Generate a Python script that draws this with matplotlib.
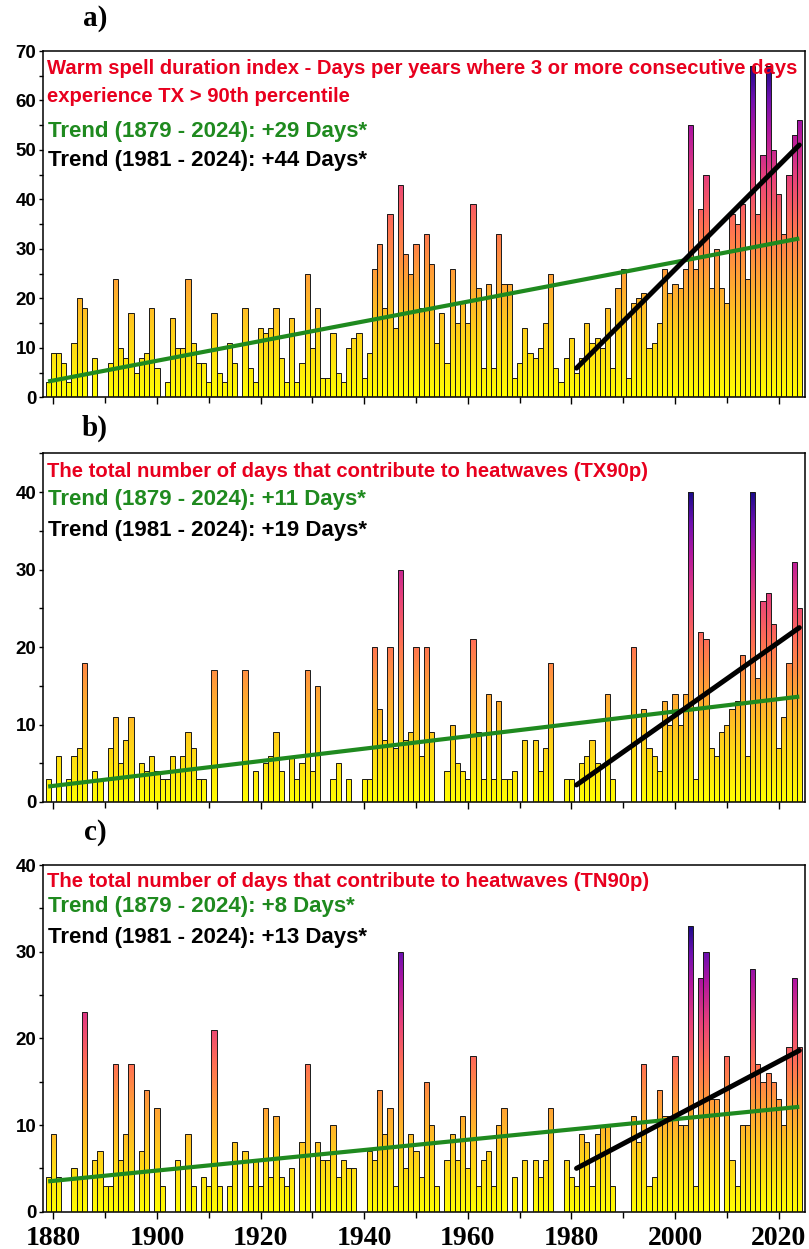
import numpy as np
import matplotlib
matplotlib.use("Agg")
import matplotlib.pyplot as plt
from matplotlib.colors import LinearSegmentedColormap
from matplotlib.path import Path
from matplotlib.ticker import MultipleLocator

# ---------------- data ----------------
years = list(range(1879, 2025))

wsdi = [3, 9, 9, 7, 3, 11, 20, 18, 0, 8,          # 1879-1888
        0, 0, 7, 24, 10, 8, 17, 5, 8, 9,           # 1889-1898
        18, 6, 0, 3, 16, 10, 10, 24, 11, 7,        # 1899-1908
        7, 3, 17, 5, 3, 11, 7, 0, 18, 6,           # 1909-1918
        3, 14, 13, 14, 18, 8, 3, 16, 3, 7,         # 1919-1928
        25, 10, 18, 4, 4, 13, 5, 3, 10, 12,        # 1929-1938
        13, 4, 9, 26, 31, 18, 37, 14, 43, 29,      # 1939-1948
        25, 31, 18, 33, 27, 11, 17, 7, 26, 15,     # 1949-1958
        19, 15, 39, 22, 6, 23, 6, 33, 23, 23,      # 1959-1968
        4, 7, 14, 9, 8, 10, 15, 25, 6, 3,          # 1969-1978
        8, 12, 5, 8, 15, 11, 12, 10, 18, 6,        # 1979-1988
        22, 26, 4, 19, 20, 21, 10, 11, 15, 26,     # 1989-1998
        21, 23, 22, 26, 55, 26, 38, 45, 22, 30,    # 1999-2008
        22, 19, 37, 35, 39, 24, 67, 37, 49, 67,    # 2009-2018
        50, 41, 33, 45, 53, 56]                    # 2019-2024

tx90p = [3, 0, 6, 0, 3, 6, 7, 18, 0, 4,           # 1879-1888
         3, 0, 7, 11, 5, 8, 11, 0, 5, 4,           # 1889-1898
         6, 4, 3, 3, 6, 4, 6, 9, 7, 3,             # 1899-1908
         3, 0, 17, 0, 0, 0, 0, 0, 17, 0,           # 1909-1918
         4, 0, 5, 6, 9, 4, 0, 6, 3, 5,             # 1919-1928
         17, 4, 15, 0, 0, 3, 5, 0, 3, 0,           # 1929-1938
         0, 3, 3, 20, 12, 8, 20, 7, 30, 8,         # 1939-1948
         9, 20, 6, 20, 9, 0, 0, 4, 10, 5,          # 1949-1958
         4, 3, 21, 9, 3, 14, 3, 13, 3, 3,          # 1959-1968
         4, 0, 8, 0, 8, 4, 7, 18, 0, 0,            # 1969-1978
         3, 3, 0, 5, 6, 8, 5, 0, 14, 3,            # 1979-1988
         0, 0, 0, 20, 0, 12, 7, 6, 4, 13,          # 1989-1998
         10, 14, 10, 14, 40, 3, 22, 21, 7, 6,      # 1999-2008
         9, 10, 12, 13, 19, 6, 40, 16, 26, 27,     # 2009-2018
         23, 7, 11, 18, 31, 25]                    # 2019-2024

tn90p = [4, 9, 4, 0, 0, 5, 4, 23, 0, 6,           # 1879-1888
         7, 3, 3, 17, 6, 9, 17, 0, 7, 14,          # 1889-1898
         0, 12, 3, 0, 0, 6, 0, 9, 3, 0,            # 1899-1908
         4, 3, 21, 3, 0, 3, 8, 0, 7, 3,            # 1909-1918
         6, 3, 12, 4, 11, 4, 3, 5, 0, 8,           # 1919-1928
         17, 0, 8, 6, 6, 10, 4, 6, 5, 5,           # 1929-1938
         0, 0, 7, 6, 14, 9, 12, 3, 30, 5,          # 1939-1948
         9, 7, 4, 15, 10, 3, 0, 6, 9, 6,           # 1949-1958
         11, 5, 18, 3, 6, 7, 3, 10, 12, 0,         # 1959-1968
         4, 0, 6, 0, 6, 4, 6, 12, 0, 0,            # 1969-1978
         6, 4, 3, 9, 8, 3, 9, 10, 10, 3,           # 1979-1988
         0, 0, 0, 11, 8, 17, 3, 4, 14, 11,         # 1989-1998
         11, 18, 10, 10, 33, 3, 27, 30, 13, 13,    # 1999-2008
         0, 18, 6, 3, 10, 10, 28, 17, 15, 16,      # 2009-2018
         15, 13, 10, 19, 27, 19]                   # 2019-2024

trend_full_years = [1879, 2024]
trend_recent_years = [1981, 2024]
wsdi_trend_full = [3.2, 32.1]
wsdi_trend_recent = [5.9, 51.0]
tx90p_trend_full = [2.0, 13.6]
tx90p_trend_recent = [2.2, 22.5]
tn90p_trend_full = [3.5, 12.1]
tn90p_trend_recent = [5.0, 18.6]

panel_letters = ["a)", "b)", "c)"]
titles = [["Warm spell duration index - Days per years where 3 or more consecutive days",
           "experience TX > 90th percentile"],
          ["The total number of days that contribute to heatwaves (TX90p)"],
          ["The total number of days that contribute to heatwaves (TN90p)"]]
full_labels = ["Trend (1879 - 2024): +29 Days*",
               "Trend (1879 - 2024): +11 Days*",
               "Trend (1879 - 2024): +8 Days*"]
recent_labels = ["Trend (1981 - 2024): +44 Days*",
                 "Trend (1981 - 2024): +19 Days*",
                 "Trend (1981 - 2024): +13 Days*"]
y_limits = [70, 45, 40]

# ---------------- style ----------------
W, H = 809, 1249
fig = plt.figure(figsize=(W / 100, H / 100), dpi=100)

cmap = LinearSegmentedColormap.from_list(
    "heat", [(0.0, "#ffff00"), (0.2, "#ffcf1a"), (0.38, "#ff9c38"),
             (0.52, "#ff6e55"), (0.66, "#e8417a"), (0.8, "#b3179f"),
             (0.9, "#6f10b0"), (1.0, "#1a0b8a")])

RED = "#e8001e"
GREEN = "#1f8a1f"
SANS = ["Liberation Sans", "DejaVu Sans"]
SERIF = ["Liberation Serif", "DejaVu Serif"]

# axes boxes in pixels: (left, top, right, bottom)
boxes = [(42.7, 51.0, 805.0, 397.3),
         (42.7, 453.3, 805.0, 802.0),
         (42.7, 865.0, 805.0, 1211.7)]
letter_pos = [(95, 18), (95, 428), (95, 832)]
text_baselines = [([74, 102], 136.7, 166.0),
                  ([476.7], 505.0, 536.0),
                  ([886.7], 911.7, 943.0)]

series = [wsdi, tx90p, tn90p]
trends_full = [wsdi_trend_full, tx90p_trend_full, tn90p_trend_full]
trends_recent = [wsdi_trend_recent, tx90p_trend_recent, tn90p_trend_recent]

xmin, xmax = 1877.95, 2025.1

for i in range(3):
    l, t, r, b = boxes[i]
    ax = fig.add_axes([l / W, 1 - b / H, (r - l) / W, (b - t) / H])
    vals = series[i]
    bars = ax.bar(years, vals, width=1.0, facecolor="none",
                  edgecolor="#1a1a1a", linewidth=0.7, zorder=3)
    paths = [p.get_path().transformed(p.get_patch_transform())
             for p in bars if p.get_height() > 0]
    comp = Path.make_compound_path(*paths)
    vtop = max(vals)
    grad = np.linspace(0, 1, 512).reshape(-1, 1)
    im = ax.imshow(grad, extent=[xmin - 2, xmax + 2, 0, vtop], origin="lower",
                   aspect="auto", cmap=cmap, zorder=2, interpolation="bilinear")
    im.set_clip_path(comp, ax.transData)

    ax.plot(trend_full_years, trends_full[i], color=GREEN, lw=3.0,
            solid_capstyle="butt", zorder=5)
    ax.plot(trend_recent_years, trends_recent[i], color="black", lw=3.6,
            solid_capstyle="round", zorder=6)

    ax.set_xlim(xmin, xmax)
    ax.set_ylim(0, y_limits[i])
    ax.xaxis.set_major_locator(MultipleLocator(20))
    ax.xaxis.set_minor_locator(MultipleLocator(10))
    ax.yaxis.set_major_locator(MultipleLocator(10))
    ax.yaxis.set_minor_locator(MultipleLocator(5))
    ax.tick_params(axis="x", which="major", direction="out", length=5,
                   width=1.0, pad=5)
    ax.tick_params(axis="x", which="minor", direction="out", length=4, width=1.0)
    ax.tick_params(axis="y", which="major", direction="out", length=3,
                   width=1.0, pad=1.5)
    ax.tick_params(axis="y", which="minor", direction="out", length=3, width=1.0)
    for sp in ax.spines.values():
        sp.set_linewidth(1.1)
        sp.set_color("black")
    ax.set_yticks([v for v in range(0, y_limits[i] + 1, 10)])
    for lab in ax.get_yticklabels():
        lab.set_fontfamily(SANS)
        lab.set_fontweight("bold")
        lab.set_fontsize(13.5)
    if i < 2:
        ax.set_xticklabels([])
    else:
        for lab in ax.get_xticklabels():
            lab.set_fontfamily(SERIF)
            lab.set_fontweight("bold")
            lab.set_fontsize(20)

    # panel letter
    lx, ly = letter_pos[i]
    fig.text(lx / W, 1 - ly / H, panel_letters[i], fontfamily=SERIF,
             fontweight="bold", fontsize=21, ha="center", va="center")

    red_bases, g_base, k_base = text_baselines[i]
    for line, yb in zip(titles[i], red_bases):
        fig.text(47 / W, 1 - yb / H, line, color=RED, fontfamily=SANS,
                 fontweight="bold", fontsize=14.6, va="baseline", ha="left")
    fig.text(48 / W, 1 - g_base / H, full_labels[i], color=GREEN,
             fontfamily=SANS, fontweight="bold", fontsize=16,
             va="baseline", ha="left")
    fig.text(48 / W, 1 - k_base / H, recent_labels[i], color="black",
             fontfamily=SANS, fontweight="bold", fontsize=16,
             va="baseline", ha="left")

fig.savefig("out.png", dpi=100)
